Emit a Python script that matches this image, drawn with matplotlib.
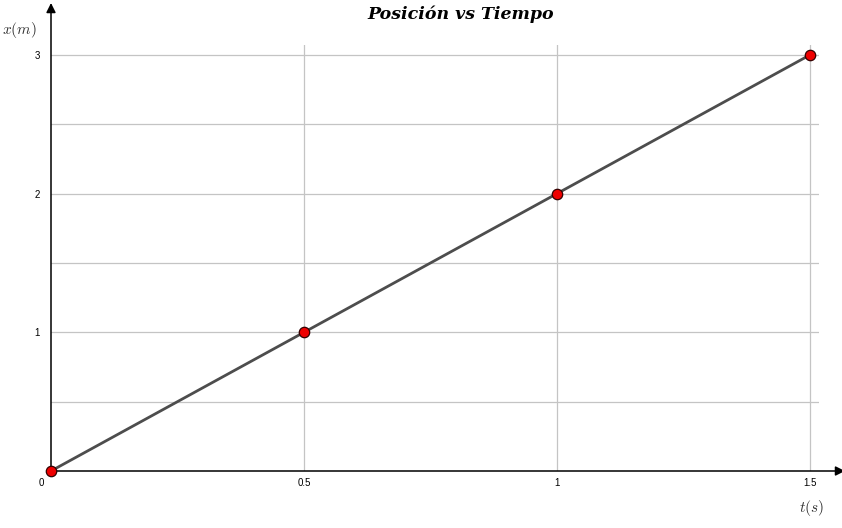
import numpy as np
import matplotlib.pyplot as plt

# datos
tiempo = [0, 0.5, 1, 1.5]
posicion = [0, 1, 2, 3]
xticks = [0.5, 1, 1.5]
yticks = [1, 2, 3]
ygrid = [0.5, 1, 1.5, 2, 2.5, 3]

plt.rcParams['mathtext.fontset'] = 'cm'

fig = plt.figure(figsize=(8.42, 5.28), dpi=100)
W, H = 842, 528
ax = fig.add_axes([51 / W, 57 / H, 768 / W, 426 / H])
ax.set_xlim(0, 768 / 506)
ax.set_ylim(0, 426 / 138.7)

for s in ax.spines.values():
    s.set_visible(False)

# grilla
for v in xticks:
    ax.axvline(v, color='#c4c4c4', lw=0.9, zorder=0)
for v in ygrid:
    ax.axhline(v, color='#c4c4c4', lw=0.9, zorder=0)

ax.set_xticks(xticks)
ax.set_xticklabels(['0.5', '1', '1.5'])
ax.set_yticks(yticks)
ax.set_yticklabels(['1', '2', '3'])
ax.tick_params(length=0, labelsize=7, pad=5, labelcolor='black')
ax.tick_params(axis='y', pad=8)
for lab in ax.get_xticklabels() + ax.get_yticklabels():
    lab.set_family('Liberation Sans')
ax.annotate('0', (0, 0), xytext=(-7, -5), textcoords='offset points',
            ha='center', va='top', fontsize=7, family='Liberation Sans')

# ejes con flechas
xmax = (845 - 51) / 506
ymax = (471 - 3) / 138.7
ax.annotate('', xy=(xmax, 0), xytext=(0, 0), annotation_clip=False,
            arrowprops=dict(arrowstyle='-|>', color='black', lw=1.1,
                            mutation_scale=14, shrinkA=0, shrinkB=0))
ax.annotate('', xy=(0, ymax), xytext=(0, 0), annotation_clip=False,
            arrowprops=dict(arrowstyle='-|>', color='black', lw=1.1,
                            mutation_scale=14, shrinkA=0, shrinkB=0))

ax.plot(tiempo, posicion, color='#4d4d4d', lw=2, zorder=3, clip_on=False,
        marker='o', markersize=7.5, markerfacecolor='#ee0000',
        markeredgecolor='#330000', markeredgewidth=0.9)

fig.text(19 / W, 1 - 30 / H, r'$x(m)$', ha='center', va='center', fontsize=11, color='#333333')
fig.text(812 / W, 1 - 508 / H, r'$t(s)$', ha='center', va='center', fontsize=11, color='#333333')
fig.text(461 / W, 1 - 14 / H, 'Posición vs Tiempo', ha='center', va='center',
         fontsize=12.5, family='DejaVu Serif', style='italic', weight='bold')

fig.savefig('out.png', dpi=100)
